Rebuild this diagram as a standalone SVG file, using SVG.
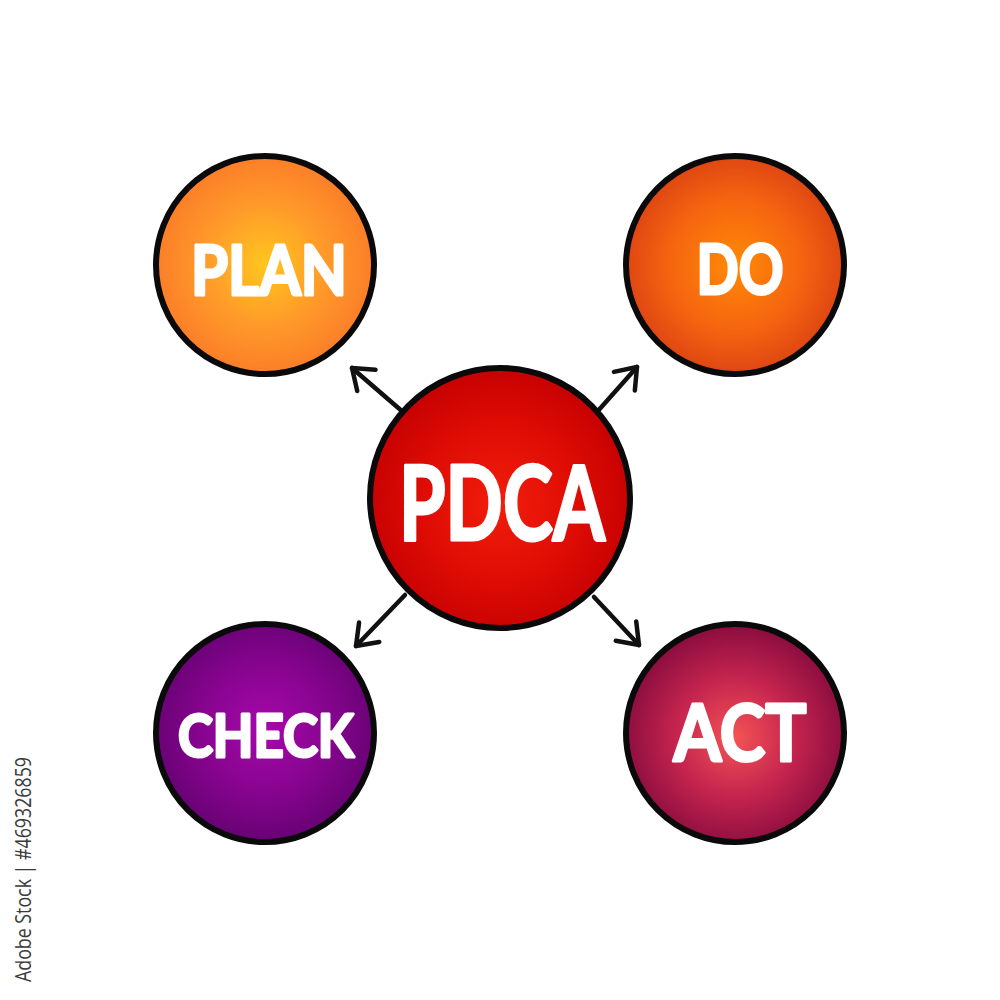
<svg xmlns="http://www.w3.org/2000/svg" width="1000" height="1000" viewBox="0 0 1000 1000">
<style>
.ring{stroke:#0a0a0a;stroke-width:6}
.lbl{font-family:"Lato","Open Sans","DejaVu Sans",sans-serif;font-weight:bold;fill:#ffffff;stroke:#ffffff;stroke-width:3;stroke-linejoin:round;text-anchor:middle}
.conn{stroke:#111;stroke-width:4.5;stroke-linecap:round;fill:none}
</style>
<defs>
<radialGradient id="gPlan" cx="50%" cy="50%" r="50%">
<stop offset="0" stop-color="#ffc61e"/>
<stop offset="0.55" stop-color="#ff9a2a"/>
<stop offset="1" stop-color="#fb7e28"/>
</radialGradient>
<radialGradient id="gDo" cx="50%" cy="50%" r="50%">
<stop offset="0" stop-color="#ff8a06"/>
<stop offset="0.6" stop-color="#f56510"/>
<stop offset="1" stop-color="#df4612"/>
</radialGradient>
<radialGradient id="gPdca" cx="50%" cy="52%" r="50%">
<stop offset="0" stop-color="#f21e0c"/>
<stop offset="0.6" stop-color="#de0c04"/>
<stop offset="1" stop-color="#c80202"/>
</radialGradient>
<radialGradient id="gCheck" cx="50%" cy="48%" r="50%">
<stop offset="0" stop-color="#a608aa"/>
<stop offset="0.6" stop-color="#86048e"/>
<stop offset="1" stop-color="#6a0276"/>
</radialGradient>
<radialGradient id="gAct" cx="50%" cy="52%" r="50%">
<stop offset="0" stop-color="#f45454"/>
<stop offset="0.55" stop-color="#c4244e"/>
<stop offset="1" stop-color="#8e0e40"/>
</radialGradient>
<marker id="head" markerUnits="userSpaceOnUse" markerWidth="44" markerHeight="44" refX="22" refY="22" orient="auto" viewBox="0 0 44 44">
<path d="M3,8 L22,22 L3,36" fill="none" stroke="#111" stroke-width="4.5" stroke-linecap="round" stroke-linejoin="round"/>
</marker>
</defs>
<rect width="1000" height="1000" fill="#ffffff"/>
<g id="connectors">
<line class="conn" x1="403" y1="412" x2="352" y2="368" marker-end="url(#head)"/>
<line class="conn" x1="597" y1="412" x2="637" y2="367" marker-end="url(#head)"/>
<line class="conn" x1="405" y1="595" x2="356" y2="646" marker-end="url(#head)"/>
<line class="conn" x1="594" y1="597" x2="639" y2="645" marker-end="url(#head)"/>
</g>
<g id="node-plan">
<circle class="ring" cx="265" cy="265" r="109" fill="url(#gPlan)"/>
<text class="lbl" x="269" y="295" font-size="68" textLength="156" lengthAdjust="spacingAndGlyphs">PLAN</text>
</g>
<g id="node-do">
<circle class="ring" cx="735" cy="265" r="109" fill="url(#gDo)"/>
<text class="lbl" x="740" y="294" font-size="68" textLength="87" lengthAdjust="spacingAndGlyphs">DO</text>
</g>
<g id="node-pdca">
<circle class="ring" cx="500" cy="498" r="130" fill="url(#gPdca)"/>
<text class="lbl" x="502" y="540" font-size="104" textLength="206" lengthAdjust="spacingAndGlyphs">PDCA</text>
</g>
<g id="node-check">
<circle class="ring" cx="265" cy="733" r="109" fill="url(#gCheck)"/>
<text class="lbl" x="266" y="757" font-size="60" textLength="176" lengthAdjust="spacingAndGlyphs">CHECK</text>
</g>
<g id="node-act">
<circle class="ring" cx="735" cy="733" r="109" fill="url(#gAct)"/>
<text class="lbl" x="740" y="761" font-size="78" textLength="133" lengthAdjust="spacingAndGlyphs">ACT</text>
</g>
<text x="31" y="982" transform="rotate(-90 31 982)" font-family="'Open Sans','DejaVu Sans',sans-serif" font-size="22" fill="#3a3a3a" textLength="225" lengthAdjust="spacingAndGlyphs">Adobe Stock | #469326859</text>
</svg>
